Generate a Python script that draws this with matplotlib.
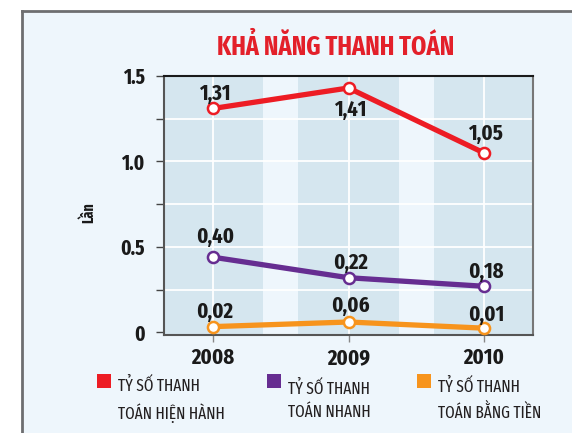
import matplotlib.pyplot as plt
from matplotlib.patches import Rectangle
from matplotlib.lines import Line2D
from matplotlib.ticker import MultipleLocator, FixedLocator

# data
years = ['2008', '2009', '2010']
hien_hanh = [1.31, 1.43, 1.05]
hien_hanh_lbl = ['1,31', '1,41', '1,05']
nhanh = [0.44, 0.32, 0.27]
nhanh_lbl = ['0,40', '0,22', '0,18']
bang_tien = [0.034, 0.061, 0.025]
bang_tien_lbl = ['0,02', '0,06', '0,01']
legend_names = ['TỶ SỐ THANH\nTOÁN HIỆN HÀNH', 'TỶ SỐ THANH\nTOÁN NHANH',
                'TỶ SỐ THANH\nTOÁN BẰNG TIỀN']

RED = '#ed1c24'
PURPLE = '#662d91'
ORANGE = '#f7941d'
BG = '#eef6fc'
BAND = '#d5e6ef'

COND = ['Fira Sans Condensed', 'Liberation Sans Narrow', 'DejaVu Sans']
XCOND = ['Fira Sans Extra Condensed', 'Fira Sans Condensed', 'DejaVu Sans']
plt.rcParams['font.family'] = COND

W, H = 572, 433
fig = plt.figure(figsize=(W / 100, H / 100), dpi=100)
fig.patch.set_facecolor('white')

# panel background, border on left and top
fig.add_artist(Rectangle((22 / W, 0), 1, 1 - 11 / H, transform=fig.transFigure,
                         facecolor=BG, edgecolor='none', zorder=-10))
fig.add_artist(Line2D([22 / W, 22 / W], [0, 1 - 11 / H], transform=fig.transFigure,
                      color='#6d6e70', lw=2))
fig.add_artist(Line2D([22 / W, 1], [1 - 11 / H, 1 - 11 / H], transform=fig.transFigure,
                      color='#6d6e70', lw=2))

ax = fig.add_axes([164 / W, 1 - 335 / H, (533 - 164) / W, (335 - 76) / H])
ax.set_facecolor(BG)
x = range(len(years))

for i in x:
    ax.axvspan(i - 0.37, i + 0.37, color=BAND, zorder=0, lw=0)
    ax.axvline(i, color='white', lw=1.3, zorder=1)
for yv in [0.25, 0.5, 0.75, 1.0, 1.25]:
    ax.axhline(yv, color='white', lw=1.3, zorder=1)

series = [(hien_hanh, hien_hanh_lbl, RED, [15, -22, 19]),
          (nhanh, nhanh_lbl, PURPLE, [20, 15, 14]),
          (bang_tien, bang_tien_lbl, ORANGE, [15, 16, 13])]
for vals, lbls, col, offs in series:
    ax.plot(x, vals, color=col, lw=3.8, marker='o', ms=8, mfc='white',
            mec=col, mew=1.8, zorder=3, solid_capstyle='round')
    for xi, v, l, o in zip(x, vals, lbls, offs):
        ax.annotate(l, (xi, v), xytext=(2, o), textcoords='offset pixels',
                    ha='center', va='center', fontsize=16, fontweight='bold',
                    family=XCOND, color='#1a1a1a', zorder=4)

ax.set_xlim(-0.362, 2.362)
ax.set_ylim(-0.015, 1.5)
ax.yaxis.set_major_locator(FixedLocator([0, 0.5, 1.0, 1.5]))
ax.yaxis.set_minor_locator(MultipleLocator(0.25))
ax.set_yticklabels(['0', '0.5', '1.0', '1.5'])
ax.set_xticks(list(x))
ax.set_xticklabels(years)
ax.tick_params(axis='y', which='both', length=6, width=1, color='#444444',
               labelsize=15, pad=8)
ax.tick_params(axis='x', length=5, width=1, color='#888888', labelsize=16, pad=4)
for lab in ax.get_xticklabels() + ax.get_yticklabels():
    lab.set_fontweight('bold')
    lab.set_family(XCOND)
    lab.set_color('#1a1a1a')

ax.spines['top'].set_color('#1a1a1a')
ax.spines['left'].set_color('#555555')
ax.spines['bottom'].set_color('#555555')
ax.spines['right'].set_color('#777777')
for s in ax.spines.values():
    s.set_linewidth(1.5)

fig.text(89 / W, 1 - 213 / H, 'Lần', rotation=90, ha='center', va='center',
         fontsize=11, fontweight='bold', family=XCOND, color='#1a1a1a')

fig.text(336 / W, 1 - 47 / H, 'KHẢ NĂNG THANH TOÁN', ha='center', va='center',
         fontsize=19, fontweight='bold', family=XCOND, color='#e3202a')

# legend
leg_x = [97, 267, 417]
for lx, name, col in zip(leg_x, legend_names, [RED, PURPLE, ORANGE]):
    fig.add_artist(Rectangle((lx / W, 1 - 388 / H), 14 / W, 14 / H,
                             transform=fig.transFigure, facecolor=col, edgecolor='none'))
    fig.text((lx + 21) / W, 1 - 400 / H, name, ha='left', va='center',
             fontsize=12, family=XCOND, color='#231f20', linespacing=1.55)

fig.savefig('out.png', dpi=100, facecolor=fig.get_facecolor())
